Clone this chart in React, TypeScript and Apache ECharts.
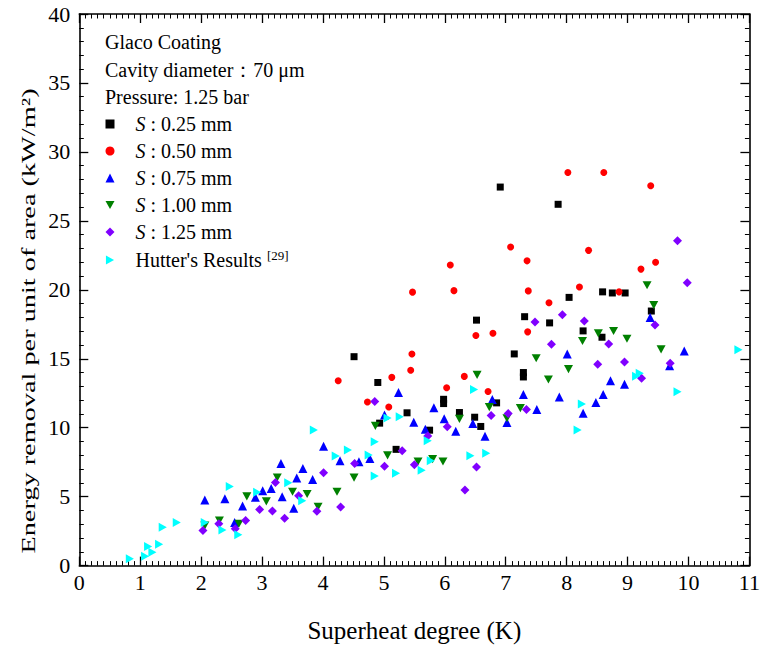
import React, { useEffect, useRef } from "react";
import * as echarts from "echarts";

type P = [number, number];

const seriesNames = ["S: 0.25 mm", "S: 0.50 mm", "S: 0.75 mm", "S: 1.00 mm", "S: 1.25 mm", "Hutter's Results [29]"];

const s025: P[] = [
  [4.51, 15.15], [4.9, 13.28], [4.93, 10.33], [5.2, 8.43], [5.38, 11.08], [5.75, 9.82], [5.98, 12.06], [5.98, 11.75],
  [6.24, 11.1], [6.49, 10.76], [6.52, 17.8], [6.59, 10.09], [6.85, 11.8], [6.91, 27.45], [7.14, 15.35], [7.29, 14.0],
  [7.29, 13.68], [7.31, 18.05], [7.72, 17.6], [7.86, 26.2], [8.04, 19.45], [8.27, 17.02], [8.58, 16.56], [8.59, 19.85],
  [8.75, 19.77], [8.96, 19.77], [9.39, 18.46],
];

const s050: P[] = [
  [4.25, 13.4], [4.73, 11.86], [5.08, 11.5], [5.13, 13.65], [5.44, 14.16], [5.46, 15.35], [5.47, 19.83], [6.03, 12.9],
  [6.09, 21.8], [6.15, 19.94], [6.32, 13.72], [6.51, 16.68], [6.71, 12.62], [6.79, 16.85], [7.08, 23.1], [7.35, 22.1],
  [7.36, 16.95], [7.37, 19.92], [7.71, 19.06], [8.02, 28.5], [8.21, 20.2], [8.36, 22.86], [8.61, 28.5], [8.86, 19.85],
  [9.22, 21.5], [9.38, 27.55], [9.46, 22.0],
];

const s075: P[] = [
  [2.06, 4.76], [2.39, 4.85], [2.55, 3.12], [2.68, 4.32], [2.89, 4.95], [3.01, 5.43], [3.15, 5.6], [3.31, 7.4],
  [3.33, 5.0], [3.52, 4.16], [3.57, 6.36], [3.67, 7.04], [3.83, 6.25], [4.01, 8.66], [4.28, 7.6], [4.59, 7.53],
  [4.77, 7.77], [5.01, 10.92], [5.24, 12.55], [5.49, 10.4], [5.68, 9.88], [5.82, 11.44], [5.99, 10.64], [6.18, 9.74],
  [6.46, 10.3], [6.66, 9.38], [6.78, 12.04], [7.02, 10.38], [7.29, 12.4], [7.51, 11.32], [7.88, 12.23], [8.01, 15.35],
  [8.27, 11.05], [8.48, 11.83], [8.6, 12.4], [8.72, 13.41], [8.95, 13.15], [9.37, 17.99], [9.69, 14.49], [9.93, 15.56],
];

const s100: P[] = [
  [2.06, 2.9], [2.3, 3.27], [2.62, 3.03], [2.75, 5.02], [3.07, 4.66], [3.25, 6.39], [3.5, 5.36], [3.74, 5.19],
  [3.92, 4.27], [4.23, 5.35], [4.51, 6.38], [4.86, 10.13], [5.06, 7.99], [5.56, 7.55], [5.8, 7.72], [5.97, 7.55],
  [6.24, 10.64], [6.53, 13.83], [6.73, 11.49], [7.02, 10.69], [7.24, 11.42], [7.5, 15.04], [7.7, 13.49], [8.03, 14.25],
  [8.26, 16.29], [8.52, 16.84], [8.77, 17.01], [8.99, 16.45], [9.32, 20.33], [9.43, 18.89], [9.55, 15.68],
];

const s125: P[] = [
  [2.03, 2.55], [2.29, 3.03], [2.56, 2.67], [2.73, 3.27], [2.96, 4.06], [3.17, 3.96], [3.22, 6.03], [3.37, 3.43],
  [3.6, 5.07], [3.9, 3.94], [4.01, 6.74], [4.29, 4.25], [4.52, 7.41], [4.85, 11.9], [5.01, 7.2], [5.3, 8.33],
  [5.5, 7.31], [5.72, 9.39], [6.04, 10.06], [6.33, 5.48], [6.52, 7.15], [6.76, 10.89], [7.04, 11.03], [7.34, 11.32],
  [7.48, 17.67], [7.75, 16.05], [7.93, 18.19], [8.29, 17.74], [8.51, 14.6], [8.69, 16.07], [8.95, 14.76], [9.23, 13.58],
  [9.45, 17.45], [9.7, 14.67], [9.82, 23.56], [9.98, 20.52],
];

const hutter: P[] = [
  [0.83, 0.5], [1.08, 0.67], [1.13, 1.39], [1.2, 0.96], [1.31, 1.54], [1.37, 2.79], [1.6, 3.12], [2.06, 3.12],
  [2.35, 2.59], [2.47, 5.73], [2.61, 2.23], [2.92, 5.32], [3.43, 6.01], [3.66, 4.71], [3.85, 9.83], [4.21, 7.95],
  [4.41, 8.38], [4.75, 8.02], [4.85, 8.98], [4.85, 6.5], [5.06, 10.7], [5.2, 6.69], [5.26, 10.79], [5.62, 6.91],
  [5.72, 9.05], [5.77, 7.6], [6.42, 7.97], [6.48, 12.77], [6.68, 8.14], [8.18, 9.83], [8.25, 11.72], [9.14, 13.74],
  [9.2, 13.94], [9.82, 12.6], [10.82, 15.65],
];

const infoLines = ["Glaco Coating", "Cavity diameter：70 μm", "Pressure: 1.25 bar"];
const xTitle = "Superheat degree (K)";
const yTitle = "Energy removal per unit of area (kW/m²)";

const FONT = "Liberation Serif";

const TRI_DOWN = "path://M0,0 L10,0 L5,9 Z";
const TRI_RIGHT = "path://M0,0 L9,5 L0,10 Z";

export default function App() {
  const ref = useRef<HTMLDivElement>(null);

  useEffect(() => {
    if (!ref.current) return;
    const chart = echarts.init(ref.current, undefined, { renderer: "svg" });

    const mk = (name: string, data: P[], symbol: string, size: number, color: string) => ({
      type: "scatter",
      name,
      data,
      symbol,
      symbolSize: size,
      symbolKeepAspect: true,
      itemStyle: { color, opacity: 1 },
      xAxisIndex: 0,
      yAxisIndex: 0,
    });

    const axisCommon = {
      axisLine: { show: true, onZero: false, lineStyle: { color: "#000", width: 1.6 } },
      axisTick: { show: true, inside: true, length: 9, lineStyle: { color: "#000", width: 1.3 } },
      minorTick: { show: true, length: 4.5, lineStyle: { color: "#000", width: 1 } },
      splitLine: { show: false },
    };

    const option: any = {
      animation: false,
      backgroundColor: "#fff",
      grid: { left: 79.3, right: 12.7, top: 14, bottom: 83.4, containLabel: false },
      xAxis: [
        {
          type: "value",
          min: 0,
          max: 11,
          interval: 1,
          position: "bottom",
          ...axisCommon,
          minorTick: { ...axisCommon.minorTick, splitNumber: 10 },
          axisLabel: { color: "#000", fontFamily: FONT, fontSize: 22, margin: 6 },
          name: xTitle,
          nameLocation: "middle",
          nameGap: 52,
          nameTextStyle: { color: "#000", fontFamily: FONT, fontSize: 25 },
        },
        {
          type: "value",
          min: 0,
          max: 11,
          interval: 1,
          position: "top",
          ...axisCommon,
          minorTick: { ...axisCommon.minorTick, splitNumber: 10 },
          axisLabel: { show: false },
        },
      ],
      yAxis: [
        {
          type: "value",
          min: 0,
          max: 40,
          interval: 5,
          position: "left",
          ...axisCommon,
          minorTick: { ...axisCommon.minorTick, splitNumber: 5 },
          axisLabel: { color: "#000", fontFamily: FONT, fontSize: 22, margin: 9 },
        },
        {
          type: "value",
          min: 0,
          max: 40,
          interval: 5,
          position: "right",
          ...axisCommon,
          minorTick: { ...axisCommon.minorTick, splitNumber: 5 },
          axisLabel: { show: false },
        },
      ],
      legend: {
        orient: "vertical",
        left: 105.5,
        top: 114,
        padding: 0,
        itemWidth: 9,
        itemHeight: 9,
        itemGap: 7,
        data: seriesNames,
        textStyle: {
          color: "#000",
          fontFamily: FONT,
          fontSize: 20,
          padding: [0, 0, 0, 16],
          rich: {
            i: { fontStyle: "italic", fontFamily: FONT, fontSize: 20, lineHeight: 22, color: "#000" },
            n: { fontFamily: FONT, fontSize: 20, lineHeight: 22, color: "#000" },
            sup: { fontFamily: FONT, fontSize: 13, lineHeight: 13, verticalAlign: "top", color: "#000" },
          },
        },
        formatter: (name: string) => {
          if (name.startsWith("S:")) return "{i|S}{n| " + name.slice(1) + "}";
          return "{n|Hutter's Results }{sup|[29]}";
        },
      },
      graphic: [
        ...infoLines.map((t, i) => ({
          type: "text",
          x: 105,
          y: 42 + i * 27.5,
          style: { text: t, fill: "#000", font: `20px ${FONT}`, verticalAlign: "middle", align: "left" },
          z: 10,
        })),
        {
          type: "text",
          x: 29,
          y: 321,
          rotation: Math.PI / 2,
          scaleX: 1.49,
          style: { text: yTitle, fill: "#000", font: `19px ${FONT}`, verticalAlign: "middle", align: "center" },
          z: 10,
        },
      ],
      series: [
        mk(seriesNames[0], s025, "rect", 7, "#000000"),
        mk(seriesNames[1], s050, "circle", 7, "#ff0000"),
        mk(seriesNames[2], s075, "triangle", 9, "#0000ff"),
        mk(seriesNames[3], s100, TRI_DOWN, 9, "#008000"),
        mk(seriesNames[4], s125, "diamond", 9, "#8000ff"),
        mk(seriesNames[5], hutter, TRI_RIGHT, 9, "#00ffff"),
      ],
    };

    chart.setOption(option);
    return () => chart.dispose();
  }, []);

  return (
    <div style={{ position: "absolute", left: 0, top: 0, width: 763, height: 649, overflow: "hidden" }}>
      <div ref={ref} style={{ width: 763, height: 649 }} />
    </div>
  );
}
